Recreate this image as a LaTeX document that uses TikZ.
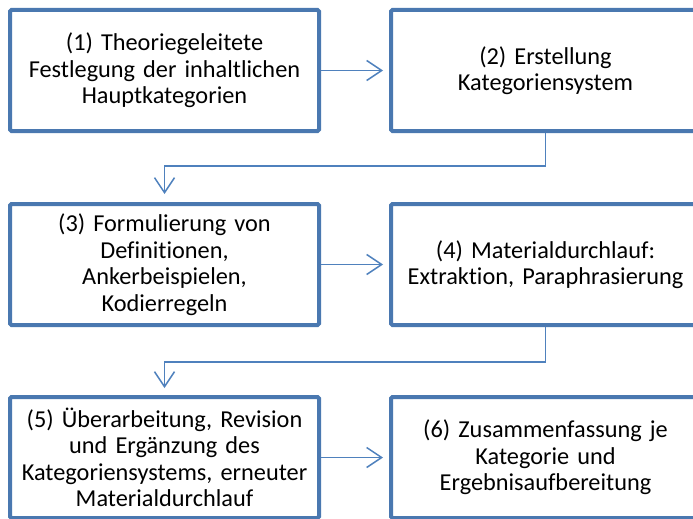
\documentclass[tikz,border=0pt]{standalone}
\usepackage{fontspec}
\setmainfont{Carlito}[Ligatures=NoCommon, WordSpace=0.7]
\usetikzlibrary{arrows.meta}
\definecolor{boxblue}{HTML}{4A78B0}
\definecolor{linkblue}{HTML}{4F81BD}
\begin{document}
\begin{tikzpicture}[x=1pt,y=-1pt,
  stepbox/.style={draw=boxblue, line width=4pt, rounded corners=1.5pt, fill=white,
    minimum width=309pt, minimum height=121pt, inner sep=0pt,
    align=center, text width=305pt, font=\fontsize{24.3}{26.5}\selectfont},
  conn/.style={draw=linkblue, line width=1.5pt,
    -{Straight Barb[length=15pt,width=20pt,line width=1.5pt]}}]
\useasboundingbox (0,0) rectangle (693,519);
\node[stepbox] (b1) at (164.5,70.5) {(1) Theoriegeleitete\\Festlegung der inhaltlichen\\Hauptkategorien};
\node[stepbox] (b2) at (545.5,70.5) {(2) Erstellung\\Kategoriensystem};
\node[stepbox] (b3) at (164.5,264.5) {(3) Formulierung von\\Definitionen,\\Ankerbeispielen,\\Kodierregeln};
\node[stepbox] (b4) at (545.5,264.5) {(4) Materialdurchlauf:\\Extraktion, Paraphrasierung};
\node[stepbox] (b5) at (164.5,457.5) {(5) Überarbeitung, Revision\\und Ergänzung des\\Kategoriensystems, erneuter\\Materialdurchlauf};
\node[stepbox] (b6) at (545.5,457.5) {(6) Zusammenfassung je\\Kategorie und\\Ergebnisaufbereitung};
\coordinate (j1) at (0,166);
\coordinate (j2) at (0,362);
\draw[conn, shorten >=6pt] (b1.east) -- (b2.west);
\draw[conn, shorten >=6pt] (b3.east) -- (b4.west);
\draw[conn, shorten >=6pt] (b5.east) -- (b6.west);
\draw[conn, shorten >=8pt] (b2.south) -- (b2.south |- j1) -- (b3.north |- j1) -- (b3.north);
\draw[conn, shorten >=7pt] (b4.south) -- (b4.south |- j2) -- (b5.north |- j2) -- (b5.north);
\end{tikzpicture}
\end{document}
